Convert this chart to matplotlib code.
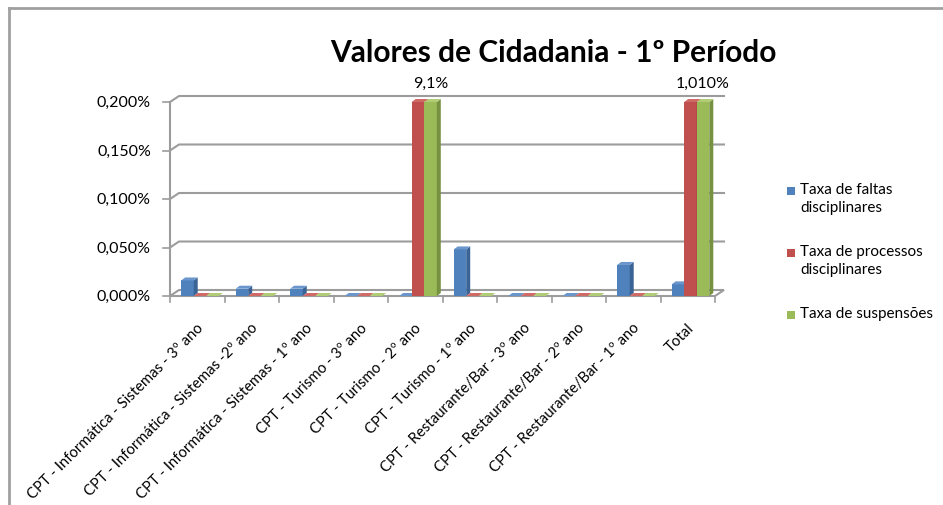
import matplotlib.pyplot as plt
from matplotlib.patches import Polygon, Rectangle
from matplotlib.lines import Line2D

plt.rcParams['font.family'] = ['Lato', 'DejaVu Sans']

# dados (em %)
categorias = ['CPT - Informática - Sistemas - 3º ano',
              'CPT - Informática - Sistemas -2º ano',
              'CPT - Informática - Sistemas - 1º ano',
              'CPT - Turismo - 3º ano',
              'CPT - Turismo - 2º ano',
              'CPT - Turismo - 1º ano',
              'CPT - Restaurante/Bar - 3º ano',
              'CPT - Restaurante/Bar - 2º ano',
              'CPT - Restaurante/Bar - 1º ano',
              'Total']
faltas = [0.016, 0.0075, 0.0075, 0.0, 0.0, 0.048, 0.0, 0.0, 0.032, 0.012]
processos = [0.0, 0.0, 0.0, 0.0, 9.1, 0.0, 0.0, 0.0, 0.0, 1.010]
suspensoes = [0.0, 0.0, 0.0, 0.0, 9.1, 0.0, 0.0, 0.0, 0.0, 1.010]
rotulos = {4: '9,1%', 9: '1,010%'}
series_nomes = ['Taxa de faltas\ndisciplinares', 'Taxa de processos\ndisciplinares', 'Taxa de suspensões']
yticks = [0.0, 0.05, 0.10, 0.15, 0.20]

cores = ['#4F81BD', '#C0504D', '#9BBB59']
lados = ['#3A6396', '#943C3A', '#76913F']
topos = ['#6A96CC', '#D06A67', '#B0CC75']

ymax = 0.2
fig = plt.figure(figsize=(9.43, 5.06), dpi=100)
ax = fig.add_axes([170/943, 1-297/506, 545/943, 194/506])
ax.set_xlim(-0.5, 9.5)
ax.set_ylim(0, ymax)
ax.axis('off')

# profundidade (unidades de dados)
dx, dy = 9/54.5, 6/194*ymax
bdx, bdy = 4/54.5, 3/194*ymax
grid_c = '#9C9C9C'

# parede do fundo
for v in yticks[1:]:
    ax.plot([-0.5, -0.5+dx, 9.5+dx], [v, v+dy, v+dy], color=grid_c, lw=1.5, clip_on=False, zorder=1)
    ax.plot([-0.5-0.12, -0.5], [v, v], color=grid_c, lw=1.2, clip_on=False, zorder=1)
ax.plot([-0.5-0.12, -0.5], [0, 0], color=grid_c, lw=1.2, clip_on=False, zorder=1)
ax.plot([-0.5, -0.5], [0, ymax], color=grid_c, lw=1.5, clip_on=False, zorder=1)
# chão
ax.add_patch(Polygon([(-0.5, 0), (9.5, 0), (9.5+dx, dy), (-0.5+dx, dy)], closed=True,
                     facecolor='white', edgecolor=grid_c, lw=1.5, clip_on=False, zorder=1))
for i in range(11):
    ax.plot([i-0.5, i-0.5], [0, -0.006], color=grid_c, lw=1.2, clip_on=False, zorder=1)

for v in yticks:
    ax.text(-0.5-0.35, v, f'{v:.3f}%'.replace('.', ','), ha='right', va='center', fontsize=11.5)

w = 0.23
z = 2
for i in range(len(categorias)):
    for s, vals in enumerate([faltas, processos, suspensoes]):
        h = min(vals[i], ymax)
        x0 = i + 0.05 + (s-1)*w - w/2
        x1 = x0 + w
        ax.add_patch(Rectangle((x0, 0), w, h, facecolor=cores[s], edgecolor='none', zorder=z, clip_on=False))
        ax.add_patch(Polygon([(x1, 0), (x1+bdx, bdy), (x1+bdx, h+bdy), (x1, h)], closed=True,
                             facecolor=lados[s], edgecolor='none', zorder=z, clip_on=False))
        ax.add_patch(Polygon([(x0, h), (x1, h), (x1+bdx, h+bdy), (x0+bdx, h+bdy)], closed=True,
                             facecolor=topos[s], edgecolor='none', zorder=z, clip_on=False))
        z += 1
    if i in rotulos:
        ax.text(i + 0.05 + w, ymax + 0.012, rotulos[i], ha='center', va='bottom', fontsize=11.5)
    ax.text(i + 0.07, -0.03, categorias[i], rotation=45, rotation_mode='anchor',
            ha='right', va='center', fontsize=10.7)

fig.text(553/943, 1-53/506, 'Valores de Cidadania - 1º Período', ha='center', va='center',
         fontsize=21.5, fontweight='bold')

# legenda
leg_y = [192, 254, 316]
for s in range(3):
    fig.patches.append(Rectangle((787/943, 1-(leg_y[s]+4)/506), 8/943, 8/506,
                                 transform=fig.transFigure, facecolor=cores[s], edgecolor='none'))
    fig.text(800/943, 1-(leg_y[s]-9)/506, series_nomes[s], ha='left', va='top', fontsize=11,
             linespacing=1.4)

# moldura
fig.lines.append(Line2D([9/943, 1], [1-9/506, 1-9/506], transform=fig.transFigure, color='#A0A0A0', lw=2))
fig.lines.append(Line2D([9/943, 9/943], [1-9/506, 0], transform=fig.transFigure, color='#A0A0A0', lw=2))

fig.savefig('out.png', dpi=100)
